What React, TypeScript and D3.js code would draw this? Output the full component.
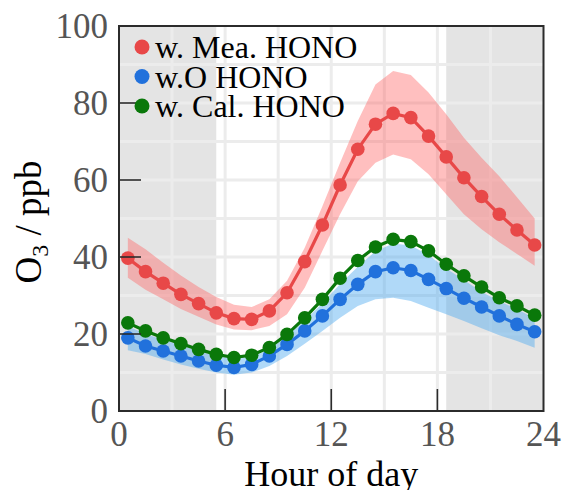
import * as d3 from "d3";
import React from "react";

// hour-of-day positions (centre of each hourly bin)
const hours = [0.5, 1.5, 2.5, 3.5, 4.5, 5.5, 6.5, 7.5, 8.5, 9.5, 10.5, 11.5,
  12.5, 13.5, 14.5, 15.5, 16.5, 17.5, 18.5, 19.5, 20.5, 21.5, 22.5, 23.5];

// w. Mea. HONO
const meaO3 = [39.7, 36.2, 33.2, 30.3, 27.9, 25.5, 24.0, 23.8, 26.0, 30.7, 38.8, 48.3,
  58.7, 68.0, 74.5, 77.3, 76.2, 71.4, 66.0, 60.6, 55.7, 51.1, 47.0, 43.1];
const meaHi = [45.0, 42.0, 38.5, 35.2, 32.2, 29.6, 27.6, 27.0, 29.0, 33.8, 42.4, 53.2,
  64.5, 75.3, 84.8, 88.3, 87.3, 82.7, 77.1, 71.0, 65.8, 61.0, 55.5, 50.0];
const meaLo = [34.6, 31.5, 29.0, 26.5, 24.5, 22.5, 21.2, 21.0, 22.1, 25.1, 32.0, 41.6,
  51.1, 59.7, 64.5, 66.6, 65.4, 61.5, 56.3, 51.1, 47.2, 43.8, 40.8, 37.7];

// w.O HONO
const woO3 = [19.0, 16.9, 15.6, 14.3, 13.0, 11.9, 11.3, 12.1, 14.3, 17.3, 20.8, 24.7,
  29.0, 32.9, 36.2, 37.2, 36.5, 34.2, 31.8, 29.3, 27.0, 24.7, 22.5, 20.6];
const woHi = [22.0, 20.0, 18.5, 17.0, 15.5, 14.3, 13.5, 14.0, 16.0, 19.5, 23.5, 28.0,
  33.0, 37.5, 41.5, 43.5, 43.0, 40.5, 37.0, 34.0, 31.0, 28.5, 26.5, 24.0];
const woLo = [15.8, 14.8, 13.4, 12.1, 11.0, 10.0, 9.4, 10.0, 11.7, 14.3, 17.5, 20.8,
  24.2, 27.3, 29.0, 29.4, 28.6, 26.8, 25.1, 23.4, 21.5, 19.7, 18.2, 16.4];

// w. Cal. HONO
const calO3 = [22.9, 20.8, 19.0, 17.5, 16.0, 14.7, 13.9, 14.5, 16.5, 19.9, 24.2, 29.0,
  34.5, 39.1, 42.6, 44.6, 44.0, 41.6, 38.1, 35.1, 32.2, 29.4, 27.3, 24.9];

const xTicks = [0, 6, 12, 18, 24];
const yTicks = [0, 20, 40, 60, 80, 100];
const xGrid = [3, 6, 9, 12, 15, 18, 21];
const yGrid = [10, 20, 30, 40, 50, 60, 70, 80, 90];
const nightSpans = [[0, 5.5], [18.5, 24]];

const legendNames = ["w. Mea. HONO", "w.O HONO", "w. Cal. HONO"];
const colors = ["#e84848", "#2171dc", "#0a780a"];

const width = 563;
const height = 490;
const serif = "'Liberation Serif', 'Times New Roman', serif";

export default function App() {
  const x = d3.scaleLinear([0, 24], [119, 543.5]);
  const y = d3.scaleLinear([0, 100], [411, 26]);

  const line = d3.line<number>().x((_, i) => x(hours[i])).y(d => y(d));
  const band = (hi: number[], lo: number[]) =>
    d3.area<number>()
      .x((_, i) => x(hours[i]))
      .y0((_, i) => y(lo[i]))
      .y1((_, i) => y(hi[i]))(hi);

  const series = [meaO3, woO3, calO3];

  return (
    <svg width={width} height={height} style={{ position: "absolute", left: 0, top: 0 }}
      fontFamily={serif}>
      {/* shaded night time */}
      {nightSpans.map(([a, b], i) => (
        <rect key={i} x={x(a)} y={y(100)} width={x(b) - x(a)} height={y(0) - y(100)} fill="#e4e4e4" />
      ))}

      {/* grid */}
      {xGrid.map(h => (
        <line key={"gx" + h} x1={x(h)} x2={x(h)} y1={y(0)} y2={y(100)} stroke="#ececec" strokeWidth={3} />
      ))}
      {yGrid.map(v => (
        <line key={"gy" + v} x1={x(0)} x2={x(24)} y1={y(v)} y2={y(v)} stroke="#ececec" strokeWidth={3} />
      ))}

      {/* uncertainty bands */}
      <path d={band(meaHi, meaLo) ?? ""} fill="rgba(255, 95, 95, 0.4)" />
      <path d={band(woHi, woLo) ?? ""} fill="rgba(80, 170, 240, 0.45)" />

      {/* lines with markers */}
      {series.map((s, k) => (
        <g key={k}>
          <path d={line(s) ?? ""} fill="none" stroke={colors[k]} strokeWidth={3.2} />
          {s.map((v, i) => (
            <circle key={i} cx={x(hours[i])} cy={y(v)} r={6.8} fill={colors[k]} />
          ))}
        </g>
      ))}

      {/* frame */}
      <rect x={x(0)} y={y(100)} width={x(24) - x(0)} height={y(0) - y(100)}
        fill="none" stroke="#2b2b2b" strokeWidth={2} />

      {/* inward ticks */}
      {xTicks.slice(1, -1).map(t => (
        <line key={"tx" + t} x1={x(t)} x2={x(t)} y1={y(0)} y2={y(0) - 22} stroke="#2b2b2b" strokeWidth={1.6} />
      ))}
      {yTicks.slice(1, -1).map(t => (
        <line key={"ty" + t} x1={x(0)} x2={x(0) + 22} y1={y(t)} y2={y(t)} stroke="#2b2b2b" strokeWidth={1.6} />
      ))}

      {/* tick labels */}
      {xTicks.map(t => (
        <text key={"lx" + t} x={x(t)} y={446} textAnchor="middle" fontSize={35} fill="#555">{t}</text>
      ))}
      {yTicks.map(t => (
        <text key={"ly" + t} x={108} y={y(t) + 12} textAnchor="end" fontSize={35} fill="#555">{t}</text>
      ))}

      {/* axis titles */}
      <text x={x(12)} y={486} textAnchor="middle" fontSize={36} fill="#000">Hour of day</text>
      <text transform={`translate(41, 222) rotate(-90)`} textAnchor="middle" fontSize={37} fill="#000">
        O<tspan fontSize={24} dy={7}>3</tspan><tspan dy={-7}> / ppb</tspan>
      </text>

      {/* legend */}
      {legendNames.map((name, i) => (
        <g key={name} transform={`translate(142, ${47 + i * 29.5})`}>
          <circle r={7.5} fill={colors[i]} />
          <text x={13} y={11} fontSize={32} fill="#000">{name}</text>
        </g>
      ))}
    </svg>
  );
}
